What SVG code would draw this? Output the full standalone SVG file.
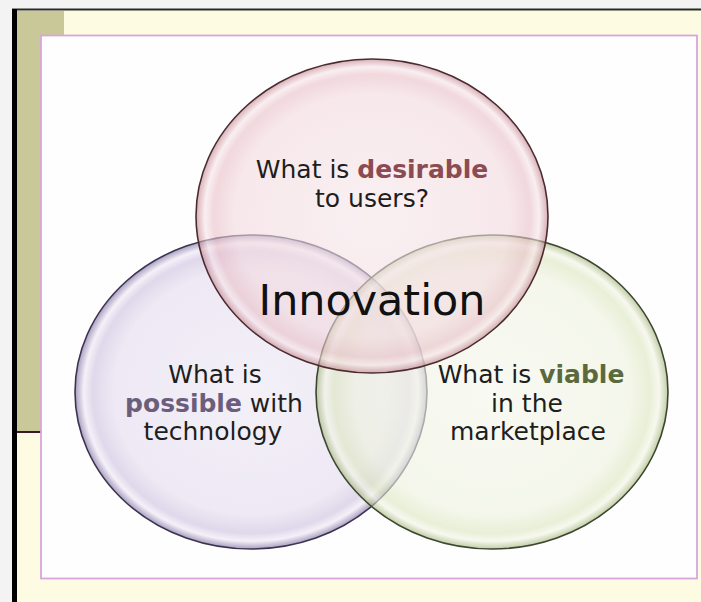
<svg xmlns="http://www.w3.org/2000/svg" width="701" height="602" viewBox="0 0 701 602">
<style>
  .lbl { font-family: "DejaVu Sans", "Liberation Sans", sans-serif; font-size: 25px; fill: #1e1e1e; text-anchor: middle; }
  .b { font-weight: bold; }
  .ring { stroke-width: 1.6; }
</style>
<defs>
  <radialGradient id="gRed" cx="0.5" cy="0.5" r="0.5">
    <stop offset="0" stop-color="#f6e6ea"/>
    <stop offset="0.78" stop-color="#f2d9de"/>
    <stop offset="0.9" stop-color="#e8bfc7"/>
    <stop offset="0.95" stop-color="#f6e4e8"/>
    <stop offset="1" stop-color="#be7c86"/>
  </radialGradient>
  <radialGradient id="gPur" cx="0.5" cy="0.5" r="0.5">
    <stop offset="0" stop-color="#efeaf5"/>
    <stop offset="0.78" stop-color="#e7e0f0"/>
    <stop offset="0.9" stop-color="#d3c8e3"/>
    <stop offset="0.95" stop-color="#f0ebf6"/>
    <stop offset="1" stop-color="#8576a6"/>
  </radialGradient>
  <radialGradient id="gGrn" cx="0.5" cy="0.5" r="0.5">
    <stop offset="0" stop-color="#f5f7ec"/>
    <stop offset="0.78" stop-color="#eef2df"/>
    <stop offset="0.9" stop-color="#dce6bf"/>
    <stop offset="0.95" stop-color="#f2f5e6"/>
    <stop offset="1" stop-color="#9cb070"/>
  </radialGradient>
</defs>

<g id="background">
  <rect x="0" y="0" width="701" height="602" fill="#f3f3f3"/>
  <rect x="14" y="10" width="687" height="592" fill="#fdfce2"/>
  <rect x="17" y="11" width="47" height="421" fill="#c9c898"/>
  <line x1="17" y1="432" x2="41" y2="432" stroke="#3a1a2a" stroke-width="2"/>
  <line x1="12" y1="9.5" x2="701" y2="9.5" stroke="#2a2a2a" stroke-width="2"/>
  <line x1="14.5" y1="9" x2="14.5" y2="602" stroke="#000" stroke-width="5"/>
  <rect x="41" y="35.5" width="656" height="543" fill="#fefefe" stroke="#d9a6dc" stroke-width="1.8"/>
</g>

<g id="node-technology">
  <ellipse class="ring" cx="251" cy="392" rx="176" ry="157" fill="url(#gPur)" fill-opacity="0.7" stroke="#3b3450"/>
</g>
<g id="node-viable">
  <ellipse class="ring" cx="492" cy="392" rx="176" ry="157" fill="url(#gGrn)" fill-opacity="0.62" stroke="#3c4630"/>
</g>
<g id="node-desirable">
  <ellipse class="ring" cx="372" cy="216" rx="176" ry="157" fill="url(#gRed)" fill-opacity="0.6" stroke="#4a2c30"/>
</g>

<g id="labels">
  <text class="lbl" x="372" y="178">What is <tspan class="b" fill="#8c4a52">desirable</tspan></text>
  <text class="lbl" x="372" y="207">to users?</text>
  <text x="372" y="315" font-family="DejaVu Sans, Liberation Sans, sans-serif" font-size="43" fill="#111" text-anchor="middle" textLength="227" lengthAdjust="spacingAndGlyphs">Innovation</text>
  <text class="lbl" x="215" y="383">What is</text>
  <text class="lbl" x="214" y="412"><tspan class="b" fill="#6b5e7c">possible</tspan> with</text>
  <text class="lbl" x="213" y="440">technology</text>
  <text class="lbl" x="531" y="383">What is <tspan class="b" fill="#5b6a3c">viable</tspan></text>
  <text class="lbl" x="527" y="412">in the</text>
  <text class="lbl" x="528" y="440">marketplace</text>
</g>
</svg>
